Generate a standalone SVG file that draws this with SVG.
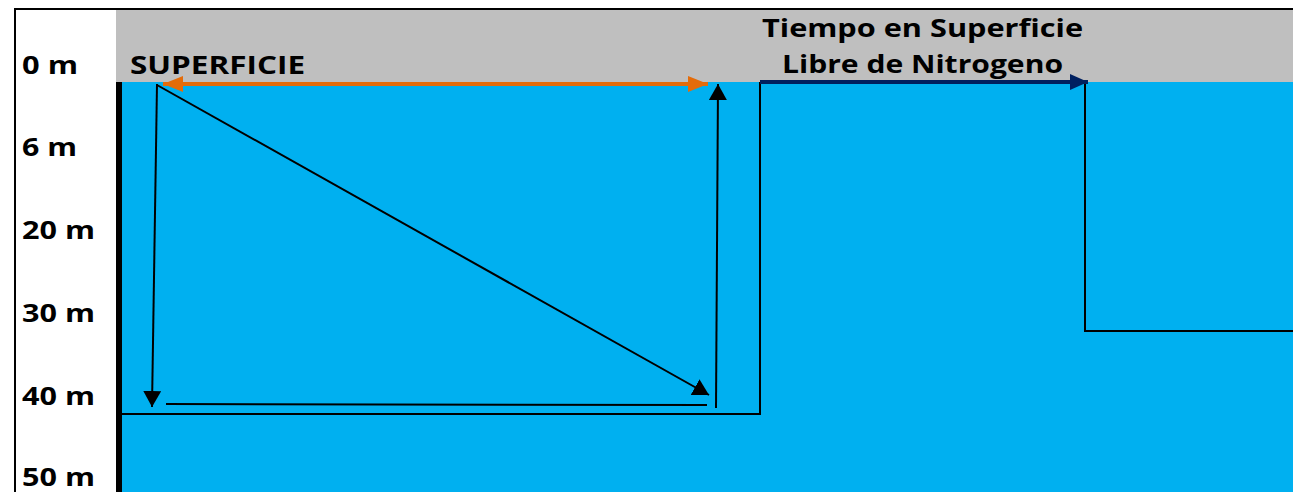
<svg xmlns="http://www.w3.org/2000/svg" width="1293" height="492" viewBox="0 0 1293 492">
<style>
.lbl{font-family:"Open Sans","Liberation Sans",sans-serif;font-weight:700;font-size:25px;fill:#000}
.ln{stroke:#000;stroke-width:2;fill:none}
</style>
<defs>
<marker id="ahBig" viewBox="0 0 10 10" refX="10" refY="5" markerWidth="16" markerHeight="18" markerUnits="userSpaceOnUse" orient="auto" preserveAspectRatio="none"><path d="M0,0 L10,5 L0,10 Z" fill="#000"/></marker>
<marker id="ahO" viewBox="0 0 10 10" refX="10" refY="5" markerWidth="20" markerHeight="16" markerUnits="userSpaceOnUse" orient="auto-start-reverse" preserveAspectRatio="none"><path d="M0,0 L10,5 L0,10 Z" fill="#E46C0A"/></marker>
<marker id="ahN" viewBox="0 0 10 10" refX="10" refY="5" markerWidth="18" markerHeight="16" markerUnits="userSpaceOnUse" orient="auto" preserveAspectRatio="none"><path d="M0,0 L10,5 L0,10 Z" fill="#002060"/></marker>
</defs>
<rect width="1293" height="492" fill="#fff"/>
<g id="background">
<rect x="116" y="9" width="1177" height="73" fill="#BFBFBF"/>
<rect x="116" y="82" width="1177" height="410" fill="#00B0F0"/>
<rect x="116" y="82" width="6" height="410" fill="#000"/>
<path d="M15,492 V9 H1293" stroke="#000" stroke-width="2" fill="none"/>
</g>
<g id="depth-labels">
<text class="lbl" x="22" y="74" textLength="56" lengthAdjust="spacingAndGlyphs">0 m</text>
<text class="lbl" x="22" y="156" textLength="55" lengthAdjust="spacingAndGlyphs">6 m</text>
<text class="lbl" x="22" y="239" textLength="73" lengthAdjust="spacingAndGlyphs">20 m</text>
<text class="lbl" x="22" y="322" textLength="73" lengthAdjust="spacingAndGlyphs">30 m</text>
<text class="lbl" x="22" y="405" textLength="73" lengthAdjust="spacingAndGlyphs">40 m</text>
<text class="lbl" x="22" y="486" textLength="73" lengthAdjust="spacingAndGlyphs">50 m</text>
</g>
<g id="superficie">
<text class="lbl" x="130" y="74" textLength="175" lengthAdjust="spacingAndGlyphs">SUPERFICIE</text>
</g>
<g id="tiempo-superficie">
<text class="lbl" x="762" y="37" textLength="321" lengthAdjust="spacingAndGlyphs">Tiempo en Superficie</text>
<text class="lbl" x="782" y="73" textLength="281" lengthAdjust="spacingAndGlyphs">Libre de Nitrogeno</text>
</g>
<g id="connectors">
<line x1="163" y1="84" x2="708" y2="84" stroke="#E46C0A" stroke-width="4" marker-start="url(#ahO)" marker-end="url(#ahO)"/>
<line class="ln" x1="157" y1="84" x2="152" y2="407" marker-end="url(#ahBig)"/>
<line class="ln" x1="157" y1="85" x2="709" y2="395" marker-end="url(#ahBig)"/>
<line class="ln" x1="166" y1="404" x2="707" y2="405"/>
<line class="ln" x1="716" y1="408" x2="718" y2="84" marker-end="url(#ahBig)"/>
<path class="ln" d="M122,414 H760 V82"/>
<line x1="760" y1="82" x2="1088" y2="82" stroke="#002060" stroke-width="4" marker-end="url(#ahN)"/>
<path class="ln" d="M1085,84 V331 H1293"/>
</g>
</svg>
